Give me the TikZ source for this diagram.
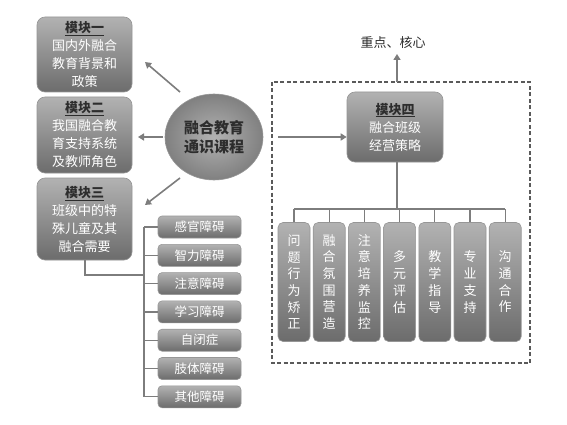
\documentclass[tikz,border=0pt]{standalone}
\usepackage{fontspec}
\setmainfont{Noto Sans CJK SC}
\usetikzlibrary{arrows.meta,shadings,shapes.geometric}
\definecolor{boxtop}{RGB}{178,178,178}
\definecolor{boxbot}{RGB}{108,108,108}
\definecolor{boxline}{RGB}{150,150,150}
\definecolor{titlec}{RGB}{45,45,45}
\definecolor{linec}{RGB}{125,125,125}
\definecolor{ellin}{RGB}{178,178,178}
\definecolor{ellout}{RGB}{128,128,128}
\definecolor{dashc}{RGB}{90,90,90}
\tikzset{
  modbox/.style={rounded corners=8pt, top color=boxtop, bottom color=boxbot, draw=boxline, line width=0.6pt,
    text=white, align=center, inner sep=0pt, font=\fontsize{13}{18}\selectfont},
  smallbox/.style={rounded corners=4pt, top color=boxtop, bottom color=boxbot, draw=boxline, line width=0.6pt,
    text=white, align=center, inner sep=0pt, minimum width=83pt, minimum height=22pt, font=\fontsize{12.5}{14}\selectfont},
  vbox/.style={rounded corners=5pt, top color=boxtop, bottom color=boxbot, draw=boxline, line width=0.6pt,
    text=white, align=center, inner sep=0pt, minimum width=32pt, minimum height=119pt, font=\fontsize{13}{16.7}\selectfont},
  conn/.style={draw=linec, line width=1.6pt, -{Triangle[length=6pt,width=7pt]}},
  tree/.style={draw=linec, line width=1.2pt},
}
\newcommand{\modtitle}[1]{{\color{titlec}\bfseries\underline{#1}}}
\begin{document}
\begin{tikzpicture}[x=1pt,y=-1pt]
\useasboundingbox[fill=white] (0,0) rectangle (567,425);
% left modules
\node[modbox, minimum width=95pt, minimum height=75pt] (m1) at (84.5,54.5) {\modtitle{模块一}\\国内外融合\\教育背景和\\政策};
\node[modbox, minimum width=95pt, minimum height=76pt] (m2) at (84.5,135) {\modtitle{模块二}\\我国融合教\\育支持系统\\及教师角色};
\node[modbox, minimum width=95pt, minimum height=82pt] (m3) at (84.5,219) {\modtitle{模块三}\\班级中的特\\殊儿童及其\\融合需要};
% ellipse
\node[ellipse, minimum width=98pt, minimum height=86pt, inner color=ellin, outer color=ellout, draw=boxline, line width=0.6pt,
  text=titlec, align=center, font=\bfseries\fontsize{15}{19}\selectfont] (core) at (214,137) {融合教育\\通识课程};
\coordinate (a1s) at (180,92);
\coordinate (a1e) at (145,62);
\coordinate (a2s) at (163,137);
\coordinate (a2e) at (138,137);
\coordinate (a3s) at (180,178);
\coordinate (a3e) at (145,205);
\draw[conn] (a1s) -- (a1e);
\draw[conn] (a2s) -- (a2e);
\draw[conn] (a3s) -- (a3e);
% small boxes
\foreach \t [count=\i] in {感官障碍,智力障碍,注意障碍,学习障碍,自闭症,肢体障碍,其他障碍}{
  \node[smallbox] (s\i) at (199.5, 227+28.3*\i-28.3) {\t};
}
\coordinate (br) at (144,275);
\coordinate (brtop) at (144,227);
\coordinate (brbot) at (144,397);
\coordinate (m3c) at (85,0);
\draw[tree] (m3.south -| m3c) |- (br);
\draw[tree] (brtop) -- (brbot);
\foreach \i in {1,...,7}{
  \draw[tree] (s\i.west -| brtop) -- (s\i.west);
}
% dashed frame
\draw[line width=1.1pt, draw=dashc, dash pattern=on 4pt off 2.5pt] (272,82) rectangle (530,363);
\coordinate (fl) at (278,137);
\node[modbox, minimum width=96pt, minimum height=70pt] (m4) at (395,127) {\modtitle{模块四}\\融合班级\\经营策略};
\draw[conn] (fl) -- (fl -| m4.west);
\node[font=\fontsize{13}{15}\selectfont, text=titlec] (key) at (393,43) {重点、核心};
\coordinate (ft) at (397,82);
\coordinate (fk) at (397,54);
\draw[conn] (ft) -- (fk);
% bottom tree
\coordinate (bar) at (397,209);
\draw[tree] (m4.south -| bar) -- (bar);
\foreach \t [count=\i] in {{问\\题\\行\\为\\矫\\正},{融\\合\\氛\\围\\营\\造},{注\\意\\培\\养\\监\\控},{多\\元\\评\\估},{教\\学\\指\\导},{专\\业\\支\\持},{沟\\通\\合\\作}}{
  \node[vbox] (v\i) at (294+35.2*\i-35.2, 282) {\t};
}
\draw[tree] (v1.north |- bar) -- (v7.north |- bar);
\foreach \i in {1,...,7}{
  \draw[tree] (v\i.north |- bar) -- (v\i.north);
}
\end{tikzpicture}
\end{document}
